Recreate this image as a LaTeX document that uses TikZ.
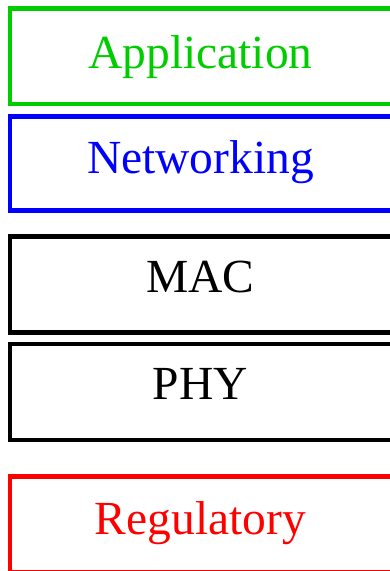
\documentclass[tikz,border=0pt]{standalone}
\usepackage{fontspec}
\setmainfont{Liberation Serif}
\definecolor{appgreen}{RGB}{0,204,0}
\begin{document}
\begin{tikzpicture}[x=1pt,y=1pt,
  layerbox/.style={draw,line width=4.8pt,fill=none},
  layertext/.style={anchor=base,inner sep=0pt,font=\fontsize{47.5}{50}\selectfont}]
\useasboundingbox (0,0) rectangle (390,571);
\begin{scope}
\clip (0,0) rectangle (390,571);
% protocol layers, top to bottom
\draw[layerbox,appgreen] (10,562.7) rectangle (396,467);
\draw[layerbox,blue]     (10,454.5) rectangle (396,360.3);
\draw[layerbox,black]    (10,334.5) rectangle (396,238.5);
\draw[layerbox,black]    (10,227)   rectangle (396,131);
\draw[layerbox,red]      (10,94.5)  rectangle (396,-1);
\end{scope}
\node[layertext,text=appgreen] (app) at (200.5,502) {Application};
\node[layertext,text=blue]     (net) at (200.5,397) {Networking};
\node[layertext,text=black]    (mac) at (200.5,278) {MAC};
\node[layertext,text=black]    (phy) at (200.5,171) {PHY};
\node[layertext,text=red]      (reg) at (200.5,36)  {Regulatory};
\end{tikzpicture}
\end{document}
